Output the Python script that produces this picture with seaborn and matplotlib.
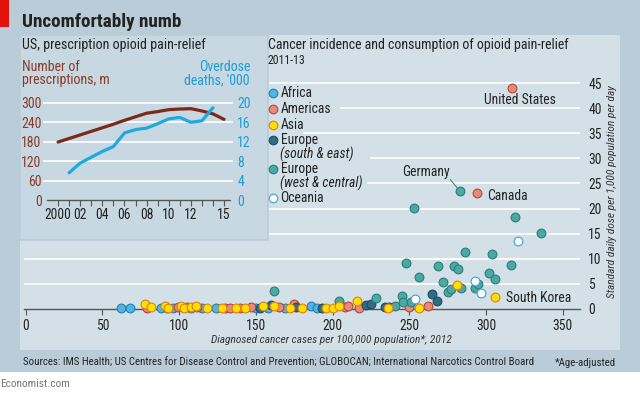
import numpy as np
import pandas as pd
import matplotlib
matplotlib.use("Agg")
import matplotlib.pyplot as plt
import seaborn as sns
from matplotlib import font_manager
from matplotlib.patches import Rectangle
from matplotlib.lines import Line2D

# ---------------- data ----------------
years_rx = list(range(2000, 2016))
prescriptions = [179, 190, 201, 212, 223, 234, 246, 257, 268, 273, 279, 281, 282, 275, 266, 249]
years_od = list(range(2001, 2015))
overdose = [5.6, 7.6, 8.8, 10.0, 11.0, 13.8, 14.5, 14.8, 15.7, 16.7, 17.0, 16.0, 16.3, 19.0]
inset_xticks = [2000, 2002, 2004, 2006, 2008, 2010, 2012, 2015]
inset_xticklabels = ["2000", "02", "04", "06", "08", "10", "12", "15"]
rx_ticks = [0, 60, 120, 180, 240, 300]
od_ticks = [0, 4, 8, 12, 16, 20]

africa_x = [62, 68, 88, 92, 96, 108, 115, 124, 150, 158, 169, 186, 190]
africa_y = [0.1, 0.1, 0.1, 0.1, 0.1, 0.1, 0.1, 0.1, 0.1, 0.2, 0.1, 0.5, 0.1]
americas_x = [79, 99, 105, 112, 130, 133, 140, 147, 165, 175, 208, 210, 217, 250, 262, 294, 317]
americas_y = [0.2, 0.3, 0.3, 0.4, 0.2, 0.2, 0.2, 0.3, 0.3, 1.0, 0.4, 0.6, 0.2, 0.3, 0.6, 23.0, 44.0]
asia_x = [78, 82, 91, 93, 101, 103, 108, 111, 118, 128, 137, 143, 155, 162, 172, 180, 196, 200,
          204, 216, 236, 256, 281, 306]
asia_y = [1.0, 0.3, 0.5, 0.1, 0.6, 0.1, 0.4, 0.6, 0.1, 0.1, 0.2, 0.2, 0.5, 0.5, 0.1, 0.1, 0.2, 0.2,
          0.6, 1.5, 0.1, 0.1, 4.8, 2.4]
eur_se_x = [153, 160, 176, 193, 222, 225, 234, 237, 265, 268]
eur_se_y = [0.2, 0.8, 0.3, 0.1, 0.8, 1.0, 0.3, 0.3, 2.9, 1.5]
eur_wc_x = [162, 204, 228, 241, 245, 246, 251, 248, 253, 256, 269, 272, 275, 277, 279, 282, 283,
            284, 286, 293, 295, 302, 304, 306, 316, 319, 336]
eur_wc_y = [3.6, 1.65, 2.1, 0.6, 2.5, 1.3, 1.3, 9.2, 20.1, 6.3, 8.5, 5.3, 3.3, 4.0, 8.5, 8.0, 23.4,
            4.1, 11.3, 4.1, 5.0, 7.1, 10.9, 5.9, 8.7, 18.4, 15.2]
oceania_x = [254, 293, 297, 321]
oceania_y = [2.0, 5.6, 3.1, 13.5]
scatter_xticks = [0, 50, 100, 150, 200, 250, 300, 350]
scatter_yticks = [0, 5, 10, 15, 20, 25, 30, 35, 40, 45]

# ---------------- style ----------------
sns.set_theme(style="white")
names = {f.name for f in font_manager.fontManager.ttflist}
FONT = None
for cand in ["Liberation Sans Narrow", "Roboto Condensed", "Open Sans Condensed", "Lato",
             "Roboto", "Liberation Sans"]:
    if cand in names:
        FONT = cand
        break
if FONT is None:
    FONT = "DejaVu Sans"
plt.rcParams["font.family"] = [FONT, "DejaVu Sans"]

W, H = 640, 394
fig = plt.figure(figsize=(W / 100, H / 100), dpi=100)
fig.patch.set_facecolor("white")

def fx(px):
    return px / W

def fy(py):
    return 1 - py / H

OUTER = "#b9ccd8"
PANEL = "#d3e0e8"
INSET = "#c7d8e2"
BROWN = "#7b2a19"
BROWN_T = "#8a3b2a"
BLUE = "#1ea9df"
BLUE_T = "#1a9fd6"
DARK = "#222222"
GREY = "#555555"
FS = 9.8

fig.patches.append(Rectangle((0, fy(372)), 1, 1 - fy(372), transform=fig.transFigure,
                             facecolor=OUTER, edgecolor="none", zorder=0))
fig.patches.append(Rectangle((fx(20), fy(350)), fx(600), fy(35) - fy(350), transform=fig.transFigure,
                             facecolor=PANEL, edgecolor="none", zorder=0.1))
fig.patches.append(Rectangle((fx(20), fy(240)), fx(248), fy(35) - fy(240), transform=fig.transFigure,
                             facecolor=INSET, edgecolor=OUTER, linewidth=1.2, zorder=2))
fig.patches.append(Rectangle((0, fy(27)), fx(9), 1 - fy(27), transform=fig.transFigure,
                             facecolor="#e3120b", edgecolor="none", zorder=2))

fig.text(fx(22), fy(22), "Uncomfortably numb", fontsize=13.8, fontweight="bold", color=DARK,
         va="center", ha="left")

# ---------------- inset ----------------
fig.text(fx(22), fy(45), "US, prescription opioid pain-relief", fontsize=10.2, color=DARK,
         va="center", ha="left", zorder=5)
fig.text(fx(22), fy(67), "Number of", fontsize=10, color=BROWN_T, va="center", ha="left", zorder=5)
fig.text(fx(22), fy(80), "prescriptions, m", fontsize=10, color=BROWN_T, va="center", ha="left", zorder=5)
fig.text(fx(250), fy(67), "Overdose", fontsize=10, color=BLUE_T, va="center", ha="right", zorder=5)
fig.text(fx(250), fy(80), "deaths, '000", fontsize=10, color=BLUE_T, va="center", ha="right", zorder=5)

axi = fig.add_axes([fx(43), fy(200), fx(190), fy(98) - fy(200)])
axi.set_zorder(3)
axi.patch.set_alpha(0)
for s in axi.spines.values():
    s.set_visible(False)
axi.set_xlim(1998.64, 2015.81)
axi.set_ylim(0, 315)
for v in rx_ticks[1:]:
    axi.axhline(v, color="white", lw=1.2, zorder=1)
axi.plot([1999, 2015.5], [0, 0], color=GREY, lw=1.0, zorder=2, clip_on=False)
sns.lineplot(x=years_rx, y=prescriptions, ax=axi, color=BROWN, lw=2.3, zorder=4)
axi.set_xticks(list(range(2000, 2016)))
axi.set_xticklabels([inset_xticklabels[inset_xticks.index(y)] if y in inset_xticks else ""
                     for y in range(2000, 2016)])
axi.tick_params(axis="x", direction="out", length=4, width=0.8, color=GREY, pad=2,
                labelsize=9.8, labelcolor=DARK, bottom=True)
axi.set_yticks(rx_ticks)
axi.tick_params(axis="y", length=0, pad=1, labelsize=10, labelcolor=BROWN_T)
axi.set_xlabel("")
axi.set_ylabel("")

axo = axi.twinx()
axo.set_zorder(3.1)
for s in axo.spines.values():
    s.set_visible(False)
axo.set_ylim(0, 21)
sns.lineplot(x=years_od, y=overdose, ax=axo, color=BLUE, lw=2.3, zorder=5)
axo.set_yticks(od_ticks)
axo.tick_params(axis="y", length=0, pad=3, labelsize=10, labelcolor=BLUE_T)
axo.set_ylabel("")

# ---------------- scatter ----------------
fig.text(fx(268), fy(45), "Cancer incidence and consumption of opioid pain-relief", fontsize=10,
         color=DARK, va="center", ha="left")
fig.text(fx(268), fy(60), "2011-13", fontsize=8.6, color=DARK, va="center", ha="left")

ax = fig.add_axes([fx(24), fy(309), fx(556), fy(80) - fy(309)])
ax.set_zorder(1)
ax.patch.set_alpha(0)
ax.set_xlim(-1.0, 361.2)
ax.set_ylim(0, 45.6)

def dx(px):
    return (px - 25.5) / 1.535

grid_start = {45: 268, 40: 340, 35: 303, 30: 370, 25: 367, 20: 268, 15: 268, 10: 24, 5: 24}
for v, st in grid_start.items():
    ax.hlines(v, dx(st), 361.2, color="white", lw=1.2, zorder=1)

for s in ["top", "left", "right"]:
    ax.spines[s].set_visible(False)
ax.spines["bottom"].set_color(GREY)
ax.spines["bottom"].set_linewidth(1.0)

regions = [
    ("Africa", africa_x, africa_y, "#4db6e6", "#2a7ea8"),
    ("Americas", americas_x, americas_y, "#e8897a", "#b0483a"),
    ("Europe (south & east)", eur_se_x, eur_se_y, "#2f6d85", "#1d4b5e"),
    ("Europe (west & central)", eur_wc_x, eur_wc_y, "#4ba9a4", "#2d7c79"),
    ("Oceania", oceania_x, oceania_y, "#ffffff", "#35a3d6"),
    ("Asia", asia_x, asia_y, "#ffe100", "#e07d1a"),
]
rows = []
for name, xs, ys, fc, ec in regions:
    for x, y in zip(xs, ys):
        rows.append((name, x, y))
df = pd.DataFrame(rows, columns=["region", "cancer", "dose"])
for i, (name, xs, ys, fc, ec) in enumerate(regions):
    sub = df[df.region == name]
    sns.scatterplot(data=sub, x="cancer", y="dose", ax=ax, color=fc, edgecolor=ec, s=40,
                    linewidth=0.8, legend=False, clip_on=False, zorder=3 + i * 0.1)

ax.set_xticks(scatter_xticks)
ax.tick_params(axis="x", direction="out", length=4, width=0.8, color=GREY, pad=3,
               labelsize=FS, labelcolor=DARK, bottom=True)
ax.yaxis.tick_right()
ax.set_yticks(scatter_yticks)
ax.tick_params(axis="y", length=0, pad=6, labelsize=FS, labelcolor=DARK, right=True, left=False)
ax.set_xlabel("")
ax.set_ylabel("")

ax.text(322, 41.7, "United States", fontsize=FS, color=DARK, ha="center", va="center", zorder=6)
ax.text(dx(402), 27.2, "Germany", fontsize=FS, color=DARK, ha="left", va="center", zorder=6)
ax.plot([276.6, 281.3], [25.8, 24.1], color="#3a8e8a", lw=0.8, zorder=5)
ax.text(dx(487), 22.6, "Canada", fontsize=FS, color=DARK, ha="left", va="center", zorder=6)
ax.text(dx(506), 2.2, "South Korea", fontsize=FS, color=DARK, ha="left", va="center", zorder=6)

fig.text(fx(612), fy(192), "Standard daily dose per 1,000 population per day", fontsize=8.2,
         style="italic", color="#333333", rotation=90, ha="center", va="center")
fig.text(fx(331), fy(340), "Diagnosed cancer cases per 100,000 population*, 2012", fontsize=8.2,
         style="italic", color="#333333", ha="center", va="center")

# legend
leg = [("Africa", None, 93.3, "#4db6e6", "#2a7ea8"),
       ("Americas", None, 109.3, "#e8897a", "#b0483a"),
       ("Asia", None, 125.0, "#ffe100", "#e07d1a"),
       ("Europe", "(south & east)", 140.3, "#2f6d85", "#1d4b5e"),
       ("Europe", "(west & central)", 169.3, "#4ba9a4", "#2d7c79"),
       ("Oceania", None, 197.7, "#ffffff", "#35a3d6")]
for lab, sub, py, fc, ec in leg:
    fig.add_artist(Line2D([fx(272.5)], [fy(py)], marker="o", markersize=6.2, markerfacecolor=fc,
                          markeredgecolor=ec, markeredgewidth=0.8, linestyle="none",
                          transform=fig.transFigure, zorder=6))
    fig.text(fx(280.5), fy(py), lab, fontsize=FS, color=DARK, ha="left", va="center", zorder=6)
    if sub:
        fig.text(fx(280.5), fy(py + 14), sub, fontsize=FS, style="italic", color=DARK,
                 ha="left", va="center", zorder=6)

fig.text(fx(23), fy(363), "Sources: IMS Health; US Centres for Disease Control and Prevention; "
         "GLOBOCAN; International Narcotics Control Board", fontsize=7.8, color=DARK,
         ha="left", va="center")
fig.text(fx(616), fy(363), "*Age-adjusted", fontsize=7.8, color=DARK, ha="right", va="center")
fig.text(fx(0), fy(384), "Economist.com", fontsize=8.2, color="#777777", ha="left", va="center")

fig.savefig("out.png", dpi=100, facecolor=fig.get_facecolor())
